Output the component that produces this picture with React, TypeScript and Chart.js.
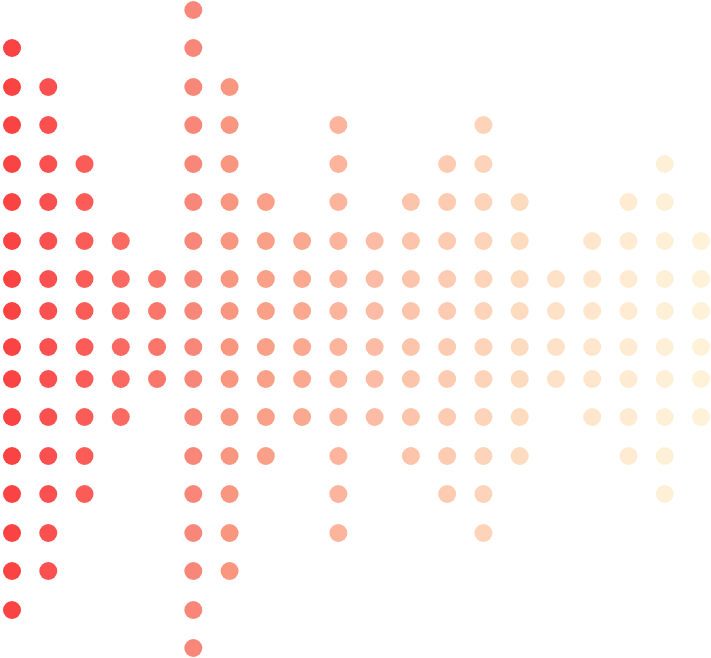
import React, { useEffect, useRef } from "react";
import { Chart, registerables } from "chart.js";

Chart.register(...registerables);

// number of dots above (and below) the centre line for each column
const columnCounts = [8, 7, 5, 3, 2, 9, 7, 4, 3, 6, 3, 4, 5, 6, 4, 2, 3, 4, 5, 3];
// distance of each dot row from the centre line
const rowLevels = [18, 50, 88, 127, 165, 204, 242, 281, 319];

const palette = [
  "#fa4343", "#fb5050", "#fb5c58", "#fb6a62", "#fa766a",
  "#f8877a", "#f9967f", "#fa9f88", "#fba890", "#fcb49c",
  "#fcbba4", "#fcc4aa", "#fccbb1", "#fdd4b9", "#fddbbf",
  "#fde2c7", "#fee6cc", "#feebd1", "#fef0d6", "#fff2d9",
];

export default function App() {
  const ref = useRef<HTMLCanvasElement | null>(null);

  useEffect(() => {
    if (!ref.current) return;
    const datasets = columnCounts.map((count, i) => {
      const pts: { x: number; y: number }[] = [];
      for (let k = 0; k < count; k++) {
        pts.push({ x: i, y: rowLevels[k] });
        pts.push({ x: i, y: -rowLevels[k] });
      }
      return {
        label: "c" + i,
        data: pts,
        backgroundColor: palette[i],
        borderWidth: 0,
        pointRadius: 9,
        pointHoverRadius: 9,
        clip: false as any,
      };
    });
    const chart = new Chart(ref.current, {
      type: "scatter",
      data: { datasets },
      options: {
        animation: false,
        responsive: true,
        maintainAspectRatio: false,
        layout: { padding: 0, autoPadding: false },
        plugins: { legend: { display: false }, tooltip: { enabled: false } },
        scales: {
          x: { type: "linear", display: false, min: -12 / 36.26, max: 19 + 10 / 36.26 },
          y: { type: "linear", display: false, min: -329, max: 329 },
        },
      },
    });
    return () => chart.destroy();
  }, []);

  return (
    <div style={{ position: "absolute", left: 0, top: 0, width: 711, height: 658, background: "#fff" }}>
      <canvas ref={ref} />
    </div>
  );
}
